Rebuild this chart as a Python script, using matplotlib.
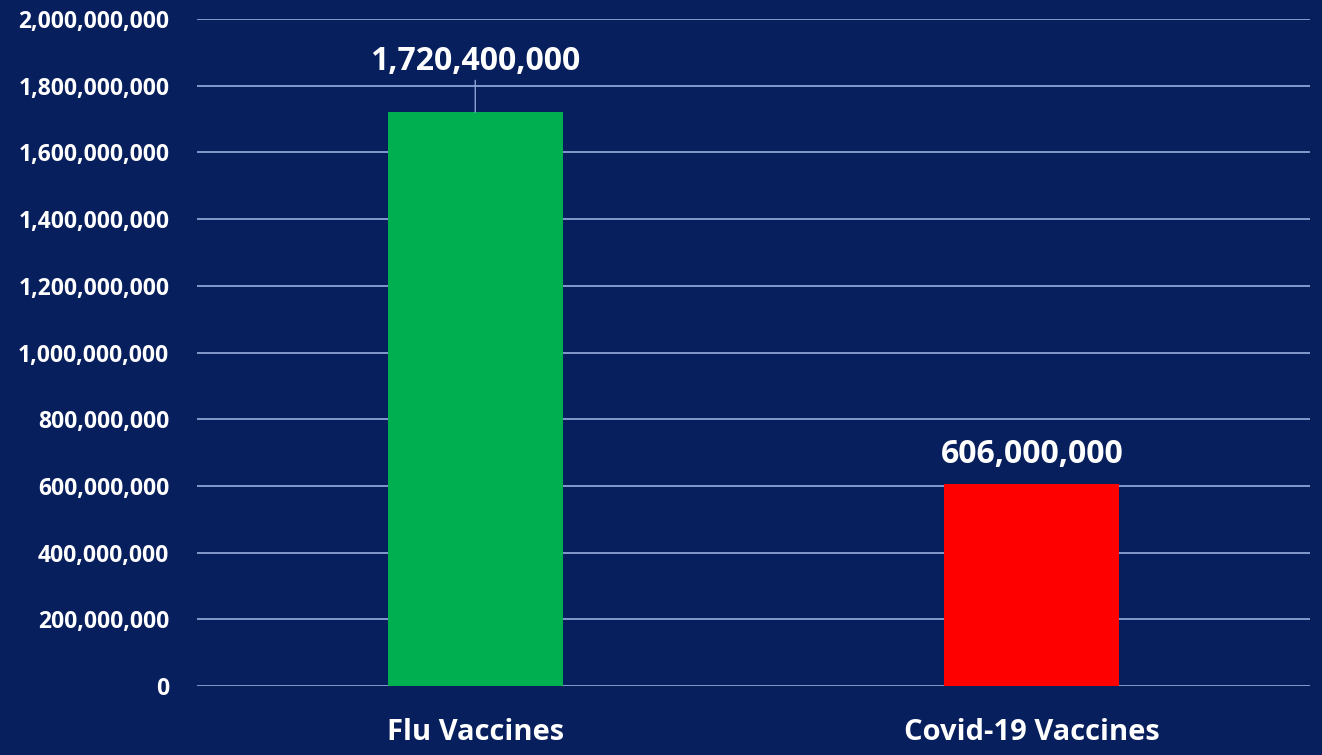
import matplotlib.pyplot as plt
from matplotlib.ticker import FuncFormatter

# Data
categories = ['Flu Vaccines', 'Covid-19 Vaccines']
doses = [1720400000, 606000000]
bar_colors = ['#00b050', '#ff0000']
y_ticks = list(range(0, 2000000001, 200000000))

bg = '#081f5e'
grid_c = '#8ea2d4'

plt.rcParams['font.family'] = ['Open Sans', 'DejaVu Sans']

fig = plt.figure(figsize=(13.22, 7.55), dpi=100, facecolor=bg)
ax = fig.add_axes([0.149, 0.0914, 0.842, 0.8834], facecolor=bg)

x = range(len(categories))
bars = ax.bar(x, doses, width=0.315, color=bar_colors, zorder=3)

ax.set_xlim(-0.5, 1.5)
ax.set_ylim(0, 2000000000)
ax.set_yticks(y_ticks)
ax.yaxis.set_major_formatter(FuncFormatter(lambda v, p: f'{int(v):,}'))
ax.set_xticks(list(x))
ax.set_xticklabels(categories)

ax.grid(axis='y', color=grid_c, linewidth=1.3, zorder=0)
ax.set_axisbelow(True)
for s in ax.spines.values():
    s.set_visible(False)

ax.tick_params(axis='y', length=0, pad=20, labelsize=16.5, labelcolor='white')
ax.tick_params(axis='x', length=0, pad=23, labelsize=21, labelcolor='white')
for lab in ax.get_yticklabels() + ax.get_xticklabels():
    lab.set_fontweight('bold')

# Value labels
ax.annotate(f'{doses[0]:,}', xy=(0, doses[0]), xytext=(0, 25),
            textcoords='offset points', ha='center', va='bottom',
            color='white', fontsize=23, fontweight='bold',
            arrowprops=dict(arrowstyle='-', color=grid_c, lw=1,
                            shrinkA=0, shrinkB=0))
ax.annotate(f'{doses[1]:,}', xy=(1, doses[1]), xytext=(0, 9),
            textcoords='offset points', ha='center', va='bottom',
            color='white', fontsize=23, fontweight='bold')

fig.savefig('out.png', dpi=100, facecolor=bg)
